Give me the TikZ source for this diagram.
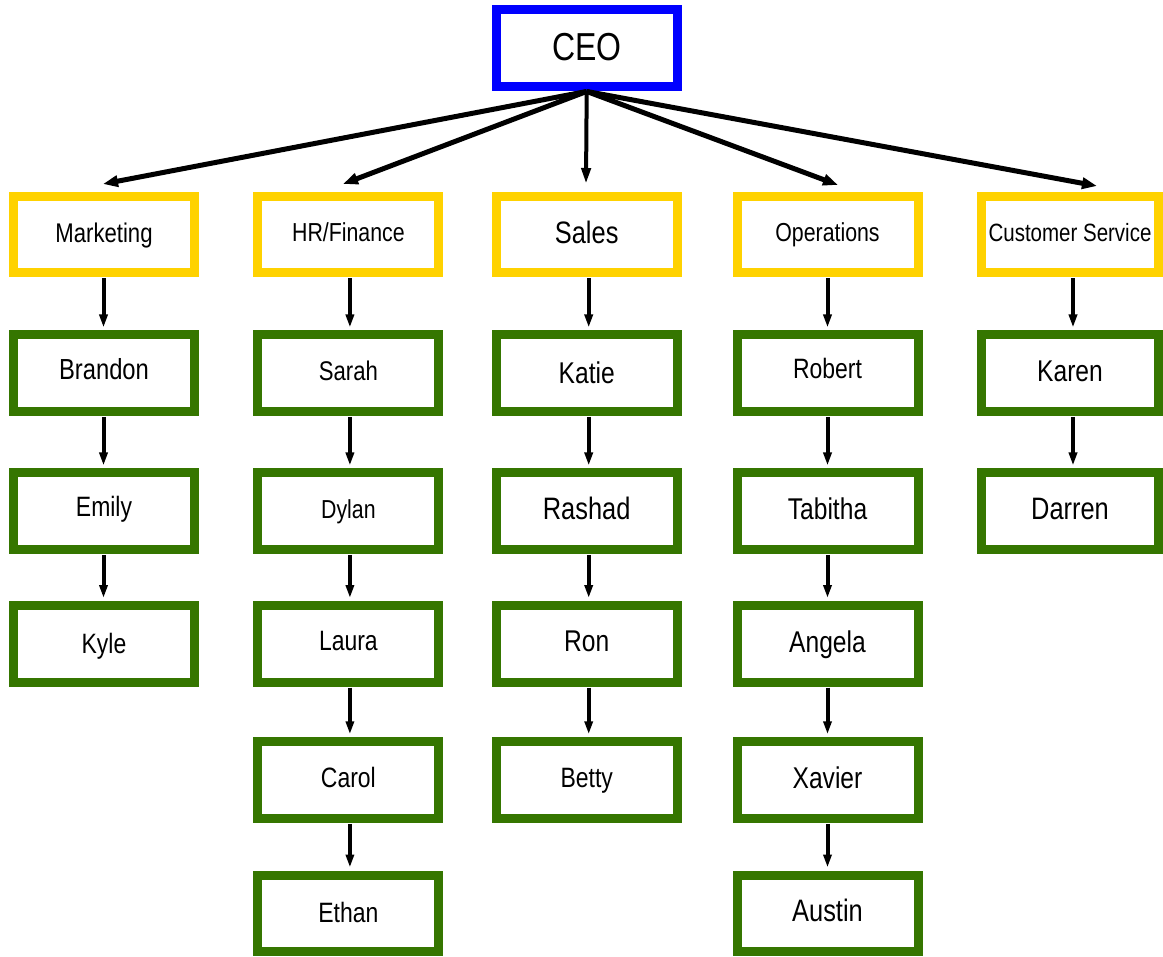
\documentclass[tikz,border=0pt]{standalone}
\usepackage{fontspec}
\setmainfont{Liberation Sans}[FakeStretch=0.82]
\usetikzlibrary{arrows.meta,calc}
\definecolor{ceoblue}{RGB}{0,0,255}
\definecolor{deptyellow}{RGB}{255,210,0}
\definecolor{empgreen}{RGB}{53,118,0}
\tikzset{
 box/.style={draw, line width=9pt, fill=white, minimum width=181pt, minimum height=76.5pt, inner sep=0pt, outer sep=0pt, text depth=5pt},
 ceobox/.style={box, draw=ceoblue},
 deptbox/.style={box, draw=deptyellow},
 empbox/.style={box, draw=empgreen},
 fs/.style={font=\fontsize{#1}{#1}\selectfont},
 varrow/.style={-{Triangle[length=13pt,width=8pt]}, line width=4pt, shorten <=5.5pt, shorten >=7.5pt},
 farrow/.style={-{Triangle[length=15pt,width=11pt]}, line width=5pt},
}
\begin{document}
\begin{tikzpicture}[x=1pt,y=-1pt]
\useasboundingbox (0,0) rectangle (1163,957);
% CEO
\node[ceobox, fs=39, text depth=2pt] (ceo) at (586.7,48.2) {CEO};
% departments
\node[deptbox, fs=27] (mkt) at (104,234.75) {Marketing};
\node[deptbox, fs=26] (hr) at (348.4,234.75) {HR/Finance};
\node[deptbox, fs=31] (sales) at (586.7,234.75) {Sales};
\node[deptbox, fs=26] (ops) at (827.5,234.75) {Operations};
\node[deptbox, fs=25, minimum width=177pt] (cs) at (1070,234.75) {Customer Service};
% Marketing column
\node[empbox, fs=29, text depth=9pt] (brandon) at (104,373.25) {Brandon};
\node[empbox, fs=28, text depth=9pt] (emily) at (104,511.25) {Emily};
\node[empbox, fs=28, text depth=0pt] (kyle) at (104,643.75) {Kyle};
% HR column
\node[empbox, fs=27] (sarah) at (348.4,373.25) {Sarah};
\node[empbox, fs=26] (dylan) at (348.4,511.25) {Dylan};
\node[empbox, fs=28] (laura) at (348.4,643.75) {Laura};
\node[empbox, fs=28] (carol) at (348.4,780) {Carol};
\node[empbox, fs=28, text depth=2pt] (ethan) at (348.4,913.25) {Ethan};
% Sales column
\node[empbox, fs=30, text depth=2pt] (katie) at (586.7,373.25) {Katie};
\node[empbox, fs=31] (rashad) at (586.7,511.25) {Rashad};
\node[empbox, fs=30] (ron) at (586.7,643.75) {Ron};
\node[empbox, fs=28] (betty) at (586.7,780) {Betty};
% Operations column
\node[empbox, fs=28, text depth=9pt] (robert) at (827.5,373.25) {Robert};
\node[empbox, fs=30] (tabitha) at (827.5,511.25) {Tabitha};
\node[empbox, fs=30] (angela) at (827.5,643.75) {Angela};
\node[empbox, fs=30] (xavier) at (827.5,780) {Xavier};
\node[empbox, fs=31] (austin) at (827.5,913.25) {Austin};
% Customer Service column
\node[empbox, fs=30, minimum width=177pt] (karen) at (1070,373.25) {Karen};
\node[empbox, fs=31, minimum width=177pt] (darren) at (1070,511.25) {Darren};
% fan-out arrows from CEO
\coordinate (src) at ([yshift=-5pt]ceo.south);
\coordinate (tmkt) at (103,184);
\coordinate (thr) at (343,184);
\coordinate (tsales) at (586,184);
\coordinate (tops) at (838,185);
\coordinate (tcs) at (1097,186);
\draw[farrow] (src) -- (tmkt);
\draw[farrow] (src) -- (thr);
\draw[farrow, line width=4pt, -{Triangle[length=16pt,width=9pt]}] (src) -- (tsales);
\draw[farrow] (src) -- (tops);
\draw[farrow] (src) -- (tcs);
% vertical arrows
\draw[varrow] ([xshift=-0.5pt]mkt.south) -- ([xshift=-0.5pt]brandon.north);
\draw[varrow] ([xshift=-0.5pt]brandon.south) -- ([xshift=-0.5pt]emily.north);
\draw[varrow] ([xshift=-0.5pt]emily.south) -- ([xshift=-0.5pt]kyle.north);
\draw[varrow] ([xshift=1.5pt]hr.south) -- ([xshift=1.5pt]sarah.north);
\draw[varrow] ([xshift=1.5pt]sarah.south) -- ([xshift=1.5pt]dylan.north);
\draw[varrow] ([xshift=1.5pt]dylan.south) -- ([xshift=1.5pt]laura.north);
\draw[varrow] ([xshift=1.5pt]laura.south) -- ([xshift=1.5pt]carol.north);
\draw[varrow] ([xshift=1.5pt]carol.south) -- ([xshift=1.5pt]ethan.north);
\draw[varrow] ([xshift=2pt]sales.south) -- ([xshift=2pt]katie.north);
\draw[varrow] ([xshift=2pt]katie.south) -- ([xshift=2pt]rashad.north);
\draw[varrow] ([xshift=2pt]rashad.south) -- ([xshift=2pt]ron.north);
\draw[varrow] ([xshift=2pt]ron.south) -- ([xshift=2pt]betty.north);
\draw[varrow] (ops.south) -- (robert.north);
\draw[varrow] (robert.south) -- (tabitha.north);
\draw[varrow] (tabitha.south) -- (angela.north);
\draw[varrow] (angela.south) -- (xavier.north);
\draw[varrow] (xavier.south) -- (austin.north);
\draw[varrow] ([xshift=3pt]cs.south) -- ([xshift=3pt]karen.north);
\draw[varrow] ([xshift=3pt]karen.south) -- ([xshift=3pt]darren.north);
\end{tikzpicture}
\end{document}
